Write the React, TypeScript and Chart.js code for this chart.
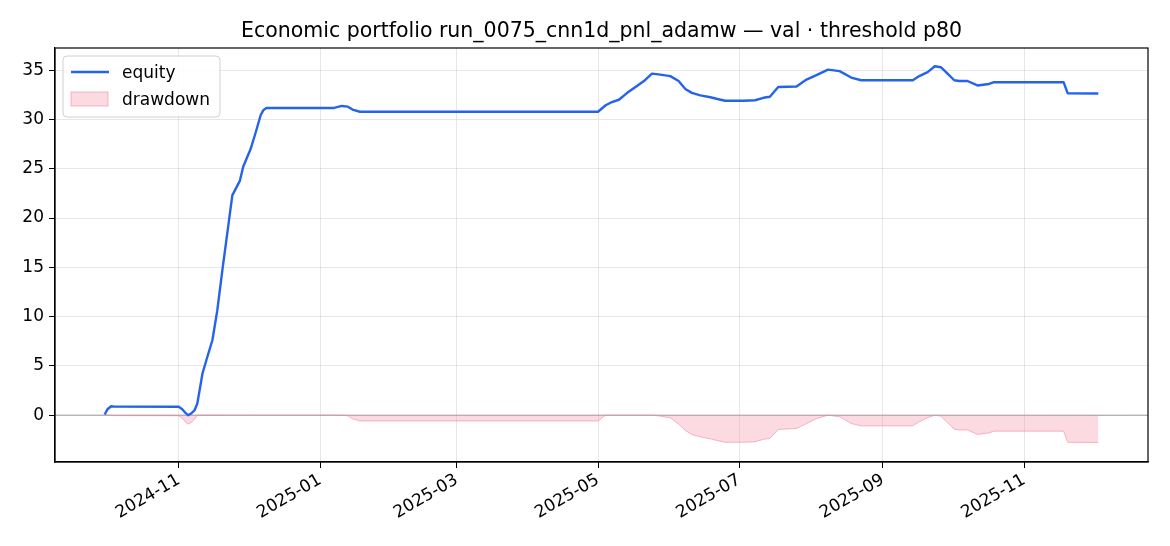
import { Chart, registerables } from "chart.js";
import { useEffect, useRef } from "react";

Chart.register(...registerables);

const FONT = '"DejaVu Sans", "Noto Sans", sans-serif';

const TITLE = "Economic portfolio run_0075_cnn1d_pnl_adamw — val · threshold p80";
const SERIES = ["equity", "drawdown"];

// days counted from 2024-09-30
const X_TICKS = [32, 93, 152, 213, 274, 336, 397];
const X_TICK_LABELS = ["2024-11", "2025-01", "2025-03", "2025-05", "2025-07", "2025-09", "2025-11"];
const Y_TICKS = [0, 5, 10, 15, 20, 25, 30, 35];

const DAYS = [
    0, 1.2, 2.8, 4.2, 32, 33.5, 35, 36, 37.5, 38.8, 40, 42.2, 44.3, 46.5, 48.6, 50.8, 52.9, 55.1, 58.4, 59.8, 63,
    65.1, 67.3, 68.5, 69.8, 99, 102.4, 105, 107, 110.2, 213, 216.3, 218.4, 222, 225.6, 229.2, 232.8, 236.3, 239.9,
    244.2, 247.8, 250.7, 253.5, 257.2, 261.5, 265, 267.9, 275.8, 280.8, 284.4, 287.2, 290.8, 298.7, 303, 307.3,
    312.3, 317.3, 322.3, 326.6, 348.9, 351.7, 355.3, 358.4, 361, 363.9, 366.8, 368.9, 372.5, 376.8, 381.8, 384,
    414, 415.8, 429,
];
const EQUITY = [
    0.07, 0.6, 0.91, 0.87, 0.85, 0.6, 0.2, 0.0, 0.2, 0.5, 1.18, 4.2, 5.9, 7.6, 10.6, 14.7, 18.4, 22.3, 23.8, 25.2,
    27.0, 28.6, 30.4, 30.95, 31.17, 31.17, 31.37, 31.3, 31.0, 30.78, 30.78, 31.44, 31.7, 32.0, 32.7, 33.3, 33.9,
    34.65, 34.55, 34.4, 33.9, 33.1, 32.7, 32.45, 32.25, 32.05, 31.9, 31.9, 31.95, 32.2, 32.3, 33.3, 33.35, 34.05,
    34.5, 35.06, 34.9, 34.25, 33.98, 33.98, 34.4, 34.8, 35.4, 35.3, 34.65, 33.98, 33.9, 33.9, 33.45, 33.6, 33.78,
    33.78, 32.65, 32.63,
];
const DRAWDOWN = [
    0, 0, 0, -0.04, -0.06, -0.31, -0.71, -0.91, -0.71, -0.41, 0, 0, 0, 0, 0, 0, 0, 0, 0, 0, 0, 0, 0, 0, 0, 0, 0,
    -0.07, -0.37, -0.59, -0.59, 0, 0, 0, 0, 0, 0, 0, -0.1, -0.27, -0.9, -1.55, -1.96, -2.2, -2.4, -2.6, -2.75,
    -2.75, -2.7, -2.45, -2.35, -1.45, -1.35, -0.85, -0.35, 0, -0.16, -0.85, -1.08, -1.08, -0.66, -0.26, 0, -0.1,
    -0.75, -1.42, -1.5, -1.5, -1.95, -1.8, -1.62, -1.62, -2.75, -2.77,
];

const BLUE = "#2563eb";
const PINK_FILL = "rgba(244, 143, 167, 0.33)";
const PINK_EDGE = "rgba(240, 128, 155, 0.55)";

const decor = {
    id: "decor",
    beforeDatasetsDraw(chart: any) {
        const { ctx, chartArea, scales } = chart;
        const y0 = scales.y.getPixelForValue(0);
        ctx.save();
        ctx.strokeStyle = "rgba(128,128,128,0.75)";
        ctx.lineWidth = 1;
        ctx.beginPath();
        ctx.moveTo(chartArea.left, y0);
        ctx.lineTo(chartArea.right, y0);
        ctx.stroke();
        ctx.restore();
    },
    afterDraw(chart: any) {
        const { ctx, chartArea } = chart;
        ctx.save();
        // frame
        ctx.strokeStyle = "#000";
        ctx.lineWidth = 1.2;
        ctx.strokeRect(chartArea.left, chartArea.top, chartArea.right - chartArea.left, chartArea.bottom - chartArea.top);

        // title
        ctx.fillStyle = "#000";
        ctx.font = `20.5px ${FONT}`;
        ctx.textAlign = "center";
        ctx.textBaseline = "alphabetic";
        ctx.fillText(TITLE, (chartArea.left + chartArea.right) / 2, 36.5);

        // legend
        const lx = chartArea.left + 8;
        const ly = chartArea.top + 8;
        const w = 157;
        const h = 61;
        ctx.beginPath();
        ctx.roundRect(lx, ly, w, h, 4);
        ctx.fillStyle = "rgba(255,255,255,0.85)";
        ctx.fill();
        ctx.strokeStyle = "#d0d0d0";
        ctx.lineWidth = 1;
        ctx.stroke();

        ctx.strokeStyle = BLUE;
        ctx.lineWidth = 2.4;
        ctx.beginPath();
        ctx.moveTo(lx + 8, ly + 16);
        ctx.lineTo(lx + 46, ly + 16);
        ctx.stroke();

        ctx.fillStyle = PINK_FILL;
        ctx.fillRect(lx + 8, ly + 36, 37, 14);
        ctx.strokeStyle = PINK_EDGE;
        ctx.lineWidth = 1;
        ctx.strokeRect(lx + 8, ly + 36, 37, 14);

        ctx.fillStyle = "#000";
        ctx.font = `17px ${FONT}`;
        ctx.textAlign = "left";
        ctx.fillText(SERIES[0], lx + 59, ly + 22);
        ctx.fillText(SERIES[1], lx + 59, ly + 49);
        ctx.restore();
    },
};

export default function App() {
    const canvasRef: any = useRef(null);

    useEffect(() => {
        document.body.style.margin = "0";
        if (!canvasRef?.current) return;
        const chart = new Chart(canvasRef.current.getContext("2d"), {
            type: "line",
            data: {
                datasets: [
                    {
                        label: SERIES[0],
                        data: DAYS.map((d, i) => ({ x: d, y: EQUITY[i] })),
                        borderColor: BLUE,
                        borderWidth: 2.4,
                        borderJoinStyle: "round",
                        pointRadius: 0,
                        tension: 0,
                        fill: false,
                    },
                    {
                        label: SERIES[1],
                        data: DAYS.map((d, i) => ({ x: d, y: DRAWDOWN[i] })),
                        borderColor: PINK_EDGE,
                        backgroundColor: PINK_FILL,
                        borderWidth: 1,
                        pointRadius: 0,
                        tension: 0,
                        fill: "origin",
                    },
                ],
            },
            options: {
                animation: false,
                responsive: false,
                maintainAspectRatio: false,
                layout: { padding: { top: 48, right: 22, left: 0, bottom: 0 } },
                plugins: {
                    legend: { display: false },
                    title: { display: false },
                    tooltip: { enabled: false },
                },
                scales: {
                    x: {
                        type: "linear",
                        min: -21.45,
                        max: 450.45,
                        afterFit: (scale: any) => {
                            scale.height = 84;
                        },
                        afterBuildTicks: (scale: any) => {
                            scale.ticks = X_TICKS.map((v) => ({ value: v }));
                        },
                        grid: {
                            color: "rgba(176,176,176,0.3)",
                            lineWidth: 1,
                            tickColor: "#000",
                            tickLength: 6,
                        },
                        border: { display: true, color: "#000", width: 1.2 },
                        ticks: {
                            autoSkip: false,
                            minRotation: 30,
                            maxRotation: 30,
                            padding: 2,
                            color: "#000",
                            font: { family: FONT, size: 17 },
                            callback: (v: any) => {
                                const i = X_TICKS.indexOf(Number(v));
                                return i >= 0 ? X_TICK_LABELS[i] : "";
                            },
                        },
                    },
                    y: {
                        type: "linear",
                        min: -4.75,
                        max: 37.25,
                        afterFit: (scale: any) => {
                            scale.width = 55;
                        },
                        afterBuildTicks: (scale: any) => {
                            scale.ticks = Y_TICKS.map((v) => ({ value: v }));
                        },
                        grid: {
                            color: "rgba(176,176,176,0.3)",
                            lineWidth: 1,
                            tickColor: "#000",
                            tickLength: 6,
                        },
                        border: { display: true, color: "#000", width: 1.2 },
                        ticks: {
                            autoSkip: false,
                            padding: 5,
                            color: "#000",
                            font: { family: FONT, size: 17 },
                            callback: (v: any) => String(v),
                        },
                    },
                },
            },
            plugins: [decor],
        });
        return () => {
            chart.destroy();
        };
    }, []);

    return (
        <div style={{ width: 1170, height: 546 }}>
            <canvas ref={canvasRef} width={1170} height={546} style={{ width: 1170, height: 546 }} />
        </div>
    );
}
